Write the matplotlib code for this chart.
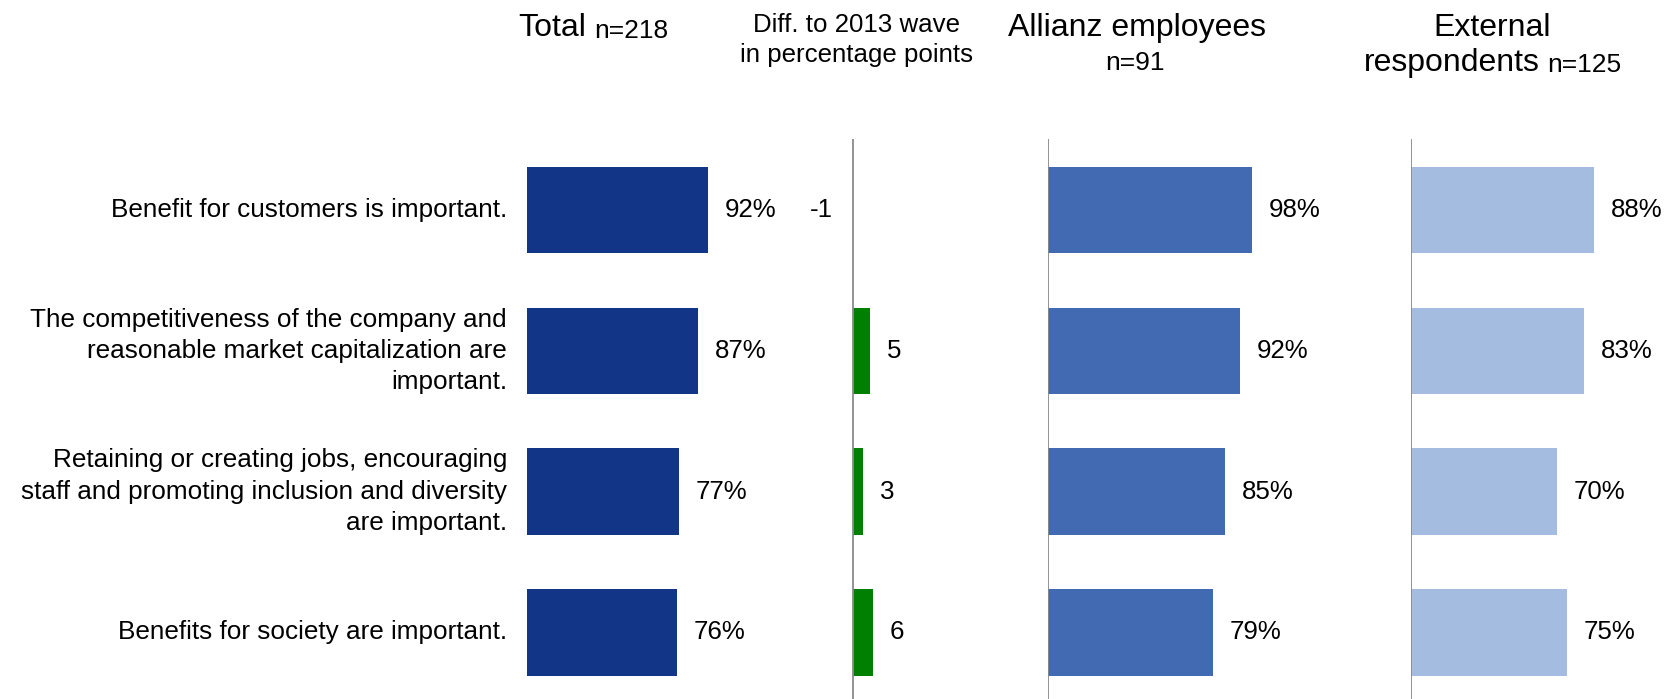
import matplotlib
matplotlib.use("Agg")
import matplotlib.pyplot as plt

plt.rcParams['font.family'] = ['Liberation Sans', 'DejaVu Sans']

categories = [
    "Benefit for customers is important.",
    "The competitiveness of the company and\nreasonable market capitalization are\nimportant.",
    "Retaining or creating jobs, encouraging\nstaff and promoting inclusion and diversity\nare important.",
    "Benefits for society are important.",
]
total = [92, 87, 77, 76]
diff_2013 = [-1, 5, 3, 6]
allianz = [98, 92, 85, 79]
external = [88, 83, 70, 75]

navy = '#133588'
mid_blue = '#426AB3'
light_blue = '#A3BCE0'
green = '#008000'
axis_grey = '#8a8a8a'

W, H = 1674, 699
fig = plt.figure(figsize=(W / 100, H / 100), dpi=100)

# vertical geometry (pixels from top)
top_px = 139
pitch = 140.8
first_center = 210
ylim_top = -(first_center - top_px) / pitch
ylim_bot = (len(categories) - 1) + (H - (first_center + (len(categories) - 1) * pitch)) / pitch
bar_h = 86.5 / pitch
ypos = list(range(len(categories)))

BODY = 18.6
LABEL = 18.8
BIG = 23
SMALL = 19
GAP = 12  # points between bar end and label


def panel(left_px, width_px, xlim, show_axis=True):
    ax = fig.add_axes([left_px / W, 0, width_px / W, (H - top_px) / H])
    ax.set_xlim(*xlim)
    ax.set_ylim(ylim_bot, ylim_top)
    ax.set_xticks([])
    ax.set_yticks([])
    for s in ax.spines.values():
        s.set_visible(False)
    if show_axis:
        ax.axvline(0, color=axis_grey, lw=1.3)
    return ax


def pct_bars(ax, values, color):
    ax.barh(ypos, values, height=bar_h, color=color, edgecolor='none')
    for y, v in zip(ypos, values):
        ax.annotate(f"{v}%", xy=(v, y), xytext=(GAP, 0), textcoords='offset points',
                    ha='left', va='center', fontsize=BODY, color='black')


# Total panel
ax_tot = panel(527, 197, (0, 100), show_axis=False)
pct_bars(ax_tot, total, navy)
for y, label in zip(ypos, categories):
    ax_tot.annotate(label, xy=(0, y), xytext=(-20 * 0.72, 0), textcoords='offset points',
                    ha='right', va='center', multialignment='right',
                    fontsize=LABEL, linespacing=1.38)

# Difference to 2013 wave
unit = 3.45
ax_diff = panel(852.7 - 10 * unit, 30 * unit, (-10, 20))
diff_colors = [green if v > 0 else 'none' for v in diff_2013]
ax_diff.barh(ypos, diff_2013, height=bar_h, color=diff_colors, edgecolor='none')
for y, v in zip(ypos, diff_2013):
    off = GAP if v > 0 else -GAP
    ax_diff.annotate(str(v), xy=(v, y), xytext=(off, 0), textcoords='offset points',
                     ha='left' if v > 0 else 'right', va='center', fontsize=BODY)

# Allianz employees
ax_all = panel(1048, 208.3, (0, 100))
pct_bars(ax_all, allianz, mid_blue)

# External respondents
ax_ext = panel(1410.7, 208.7, (0, 100))
pct_bars(ax_ext, external, light_blue)


def fx(x):
    return x / W


def fy(y):
    return 1 - y / H


# headers
t = fig.text(fx(518), fy(36), "Total", fontsize=BIG, ha='left', va='baseline')
fig.axes[0].annotate("n=218", xy=(1, 0), xycoords=t, xytext=(6, 0),
                     textcoords='offset points', ha='left', va='bottom', fontsize=SMALL)

fig.text(fx(856.7), fy(32), "Diff. to 2013 wave", fontsize=BODY, ha='center', va='baseline')
fig.text(fx(856.7), fy(62), "in percentage points", fontsize=BODY, ha='center', va='baseline')

fig.text(fx(1137), fy(36), "Allianz employees", fontsize=BIG, ha='center', va='baseline')
fig.text(fx(1135), fy(70), "n=91", fontsize=SMALL, ha='center', va='baseline')

fig.text(fx(1492), fy(36.5), "External", fontsize=BIG, ha='center', va='baseline')
r = fig.text(fx(1364), fy(70.5), "respondents", fontsize=BIG, ha='left', va='baseline')
fig.axes[0].annotate("n=125", xy=(1, 0), xycoords=r, xytext=(5, 0),
                     textcoords='offset points', ha='left', va='bottom', fontsize=SMALL)

fig.savefig("out.png", dpi=100)
